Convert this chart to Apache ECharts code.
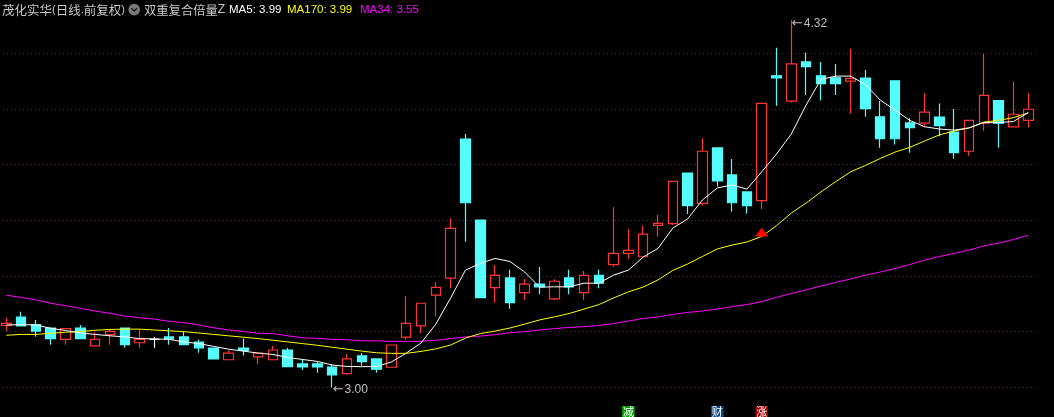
<!DOCTYPE html>
<html>
<head>
<meta charset="utf-8">
<script src="https://cdn.jsdelivr.net/npm/echarts/dist/echarts.min.js"></script>
<style>
html,body{margin:0;padding:0;background:#000;}
#chart{width:1054px;height:417px;}
</style>
</head>
<body>
<div id="chart"></div>
<script>
// ---------- DATA ----------
const stockTitle = '茂化实华';
const periodText = '日线';
const adjustText = '前复权';
const indicatorName = '双重复合倍量';
const indicatorSuffix = 'Z';

const opens = [3.222,3.252,3.225,3.213,3.172,3.213,3.149,3.189,3.213,3.160,
3.172,3.181,3.181,3.162,3.141,3.099,3.141,3.109,3.099,3.134,
3.084,3.084,3.073,3.049,3.113,3.102,3.072,3.180,3.221,3.331,
3.392,3.892,3.601,3.358,3.393,3.340,3.371,3.318,3.393,3.340,
3.402,3.441,3.481,3.469,3.582,3.588,3.770,3.661,3.860,3.763,
3.702,3.671,4.119,4.028,4.169,4.119,4.112,4.100,4.111,3.972,
4.101,3.950,3.949,3.971,3.917,3.848,3.949,4.030,3.936,3.959];

const closes = [3.230,3.221,3.202,3.175,3.211,3.175,3.172,3.201,3.153,3.172,
3.172,3.174,3.153,3.142,3.102,3.123,3.133,3.123,3.134,3.074,
3.073,3.073,3.045,3.102,3.092,3.065,3.152,3.230,3.302,3.359,
3.571,3.663,3.322,3.402,3.304,3.371,3.361,3.381,3.361,3.402,
3.374,3.481,3.492,3.550,3.589,3.740,3.653,3.848,3.742,3.663,
3.653,4.020,4.112,4.162,4.152,4.091,4.091,4.109,4.001,3.893,
3.893,3.933,3.989,3.940,3.843,3.959,4.049,3.949,3.981,3.999];

const lows = [3.202,3.218,3.182,3.153,3.153,3.175,3.149,3.153,3.142,3.142,
3.142,3.153,3.153,3.124,3.102,3.099,3.114,3.084,3.099,3.074,
3.062,3.052,3.000,3.045,3.077,3.052,3.072,3.172,3.194,3.254,
3.356,3.523,3.322,3.304,3.282,3.314,3.334,3.314,3.334,3.314,
3.356,3.433,3.462,3.469,3.541,3.583,3.623,3.653,3.721,3.631,
3.624,3.641,4.012,4.023,4.050,4.030,4.050,3.983,3.972,3.861,
3.872,3.843,3.934,3.902,3.821,3.832,3.922,3.861,3.936,3.933];

const highs = [3.249,3.271,3.242,3.213,3.211,3.224,3.198,3.209,3.213,3.209,
3.181,3.213,3.202,3.172,3.141,3.133,3.175,3.123,3.148,3.141,
3.102,3.093,3.084,3.120,3.123,3.102,3.152,3.328,3.302,3.377,
3.607,3.910,3.601,3.439,3.422,3.389,3.432,3.388,3.422,3.418,
3.422,3.647,3.569,3.580,3.619,3.740,3.770,3.895,3.860,3.820,
3.702,4.020,4.220,4.320,4.202,4.169,4.162,4.216,4.140,4.029,
4.101,3.967,4.057,4.020,4.000,3.959,4.198,4.030,4.098,4.057];

const ma5 = [3.224,3.225,3.224,3.212,3.204,3.195,3.190,3.185,3.181,3.175,
3.174,3.172,3.163,3.157,3.147,3.137,3.130,3.123,3.118,3.107,
3.100,3.093,3.080,3.075,3.074,3.075,3.091,3.123,3.159,3.227,
3.321,3.421,3.445,3.463,3.452,3.414,3.360,3.361,3.361,3.374,
3.374,3.403,3.421,3.468,3.499,3.572,3.605,3.673,3.716,3.727,
3.712,3.774,3.838,3.910,4.014,4.106,4.118,4.118,4.088,4.032,
3.996,3.959,3.936,3.928,3.924,3.932,3.951,3.951,3.955,3.987];

const ma170 = [3.187,3.190,3.190,3.194,3.198,3.200,3.205,3.208,3.209,3.209,
3.206,3.203,3.200,3.195,3.190,3.185,3.180,3.175,3.169,3.163,
3.157,3.151,3.144,3.137,3.130,3.124,3.122,3.122,3.129,3.138,
3.152,3.177,3.193,3.202,3.213,3.227,3.242,3.253,3.265,3.281,
3.297,3.321,3.343,3.360,3.386,3.420,3.443,3.470,3.497,3.511,
3.522,3.542,3.581,3.626,3.662,3.702,3.739,3.774,3.797,3.822,
3.845,3.862,3.885,3.907,3.921,3.932,3.953,3.959,3.969,3.986];

const ma34 = [3.331,3.323,3.314,3.302,3.293,3.284,3.274,3.266,3.256,3.250,
3.245,3.237,3.232,3.224,3.214,3.206,3.201,3.194,3.193,3.185,
3.178,3.176,3.172,3.171,3.167,3.167,3.165,3.165,3.165,3.169,
3.175,3.181,3.184,3.189,3.196,3.200,3.206,3.211,3.215,3.218,
3.222,3.229,3.238,3.247,3.253,3.262,3.269,3.274,3.281,3.290,
3.297,3.308,3.323,3.337,3.350,3.364,3.377,3.389,3.403,3.414,
3.427,3.441,3.457,3.470,3.481,3.493,3.508,3.518,3.531,3.546];

// signal markers under candles (category index) and their captions
const signalIndex = [42, 48, 51];
const signalText = ['减', '财', '涨'];
const triangleIndex = 51;

// price axis: gridlines every 0.2 from 3.00
const priceMin = 3.0;
const priceMax = 4.3915;
const priceStep = 0.2;

const categories = opens.map((_, i) => String(i + 1));

// ---------- STYLE ----------
const UP = '#FF3434', DOWN = '#54FCFC';
const signalColors = ['#00A000', '#0E4A86', '#9E0000'];

const candleData = opens.map((o, i) => [o, closes[i], lows[i], highs[i]]);
const hiIdx = highs.indexOf(Math.max(...highs));
const loIdx = lows.indexOf(Math.min(...lows));
const last = a => a[a.length - 1].toFixed(2);

const chart = echarts.init(document.getElementById('chart'), null, {renderer: 'canvas'});

const annLabel = {
  show: true, position: 'right', distance: 0,
  formatter: p => '{a|←}{b|' + p.value.toFixed(2) + '}',
  rich: {
    a: {color: '#BEBEBE', fontSize: 13, fontFamily: 'DejaVu Sans', padding: [0, 1, 0, 0]},
    b: {color: '#BEBEBE', fontSize: 12, fontFamily: 'Liberation Sans'}
  }
};

const option = {
  animation: false,
  backgroundColor: '#000000',
  grid: {left: -1.1, top: 0, width: 1036.8, bottom: 29.7, outerBoundsMode: 'none', containLabel: false},
  xAxis: {type: 'category', data: categories, boundaryGap: true, show: false},
  yAxis: {
    type: 'value', min: priceMin, max: priceMax, interval: priceStep,
    axisLabel: {show: false}, axisLine: {show: false}, axisTick: {show: false},
    splitLine: {show: true, showMaxLine: false, lineStyle: {color: '#C00000', width: 1, type: [1, 3]}}
  },
  series: [
    {
      type: 'candlestick',
      data: candleData,
      barWidth: 10,
      clip: false,
      itemStyle: {
        color: '#000000', color0: DOWN,
        borderColor: UP, borderColor0: DOWN, borderColorDoji: '#FFFFFF',
        borderWidth: 1.2
      },
      emphasis: {disabled: true},
      markPoint: {
        symbol: 'circle', symbolSize: 1,
        itemStyle: {color: 'rgba(0,0,0,0)'},
        data: [
          {coord: [hiIdx, highs[hiIdx]], value: highs[hiIdx], label: Object.assign({}, annLabel, {offset: [0, 4]})},
          {coord: [loIdx, lows[loIdx]], value: lows[loIdx], label: Object.assign({}, annLabel, {offset: [0, 2]})}
        ]
      }
    },
    {
      type: 'line', data: ma34, symbol: 'none', smooth: false,
      lineStyle: {color: '#FF00FF', width: 1}, emphasis: {disabled: true}
    },
    {
      type: 'line', data: ma170, symbol: 'none', smooth: false,
      lineStyle: {color: '#FFFF00', width: 1}, emphasis: {disabled: true},
      markPoint: {
        symbol: 'triangle', symbolSize: [13, 9], symbolOffset: [0, -4.5],
        itemStyle: {color: '#FF0000'}, label: {show: false},
        data: [{coord: [triangleIndex, ma170[triangleIndex]]}]
      }
    },
    {
      type: 'line', data: ma5, symbol: 'none', smooth: false,
      lineStyle: {color: '#FFFFFF', width: 1}, emphasis: {disabled: true}
    }
  ]
};
chart.setOption(option);

// ---------- HEADER + SIGNAL CAPTIONS ----------
const cjk = '"Noto Sans CJK SC"';
const graphics = [
  {
    type: 'text', x: 2, y: 10,
    style: {
      text: '{c|' + stockTitle + '}{m|(}{c|' + periodText + '}{m|.}{c|' + adjustText + '}{m|)}',
      verticalAlign: 'middle',
      rich: {
        c: {fill: '#C8C8C8', font: '12.5px ' + cjk},
        m: {fill: '#C8C8C8', font: '11px "Liberation Sans"'}
      }
    }
  },
  {type: 'circle', shape: {cx: 134.2, cy: 9.6, r: 5.8}, style: {fill: '#7A7A7A'}},
  {type: 'polyline', shape: {points: [[131.4, 8.3], [134.2, 11.1], [137, 8.3]]}, style: {stroke: '#1A1A1A', lineWidth: 1.4, fill: null}},
  {
    type: 'text', x: 144, y: 10,
    style: {
      text: '{c|' + indicatorName + '}{m|' + indicatorSuffix + '}',
      verticalAlign: 'middle',
      rich: {
        c: {fill: '#C8C8C8', font: '12.3px ' + cjk},
        m: {fill: '#C8C8C8', font: '12px "Liberation Sans"'}
      }
    }
  },
  {type: 'text', x: 229, y: 10, style: {text: 'MA5: ' + last(ma5), fill: '#FFFFFF', font: '11.5px "Liberation Sans"', verticalAlign: 'middle'}},
  {type: 'text', x: 287, y: 10, style: {text: 'MA170: ' + last(ma170), fill: '#FFFF00', font: '11.5px "Liberation Sans"', verticalAlign: 'middle'}},
  {type: 'text', x: 360, y: 10, style: {text: 'MA34: ' + last(ma34), fill: '#FF00FF', font: '11.5px "Liberation Sans"', verticalAlign: 'middle'}}
];
signalIndex.forEach((idx, k) => {
  const cx = chart.convertToPixel({xAxisIndex: 0}, idx);
  graphics.push({type: 'rect', shape: {x: cx - 6.3, y: 406, width: 12.6, height: 12}, style: {fill: signalColors[k]}});
  graphics.push({type: 'text', x: cx, y: 412, style: {text: signalText[k], fill: '#FFFFFF', font: '11px ' + cjk, align: 'center', verticalAlign: 'middle'}});
});
chart.setOption({graphic: graphics});
</script>
</body>
</html>
